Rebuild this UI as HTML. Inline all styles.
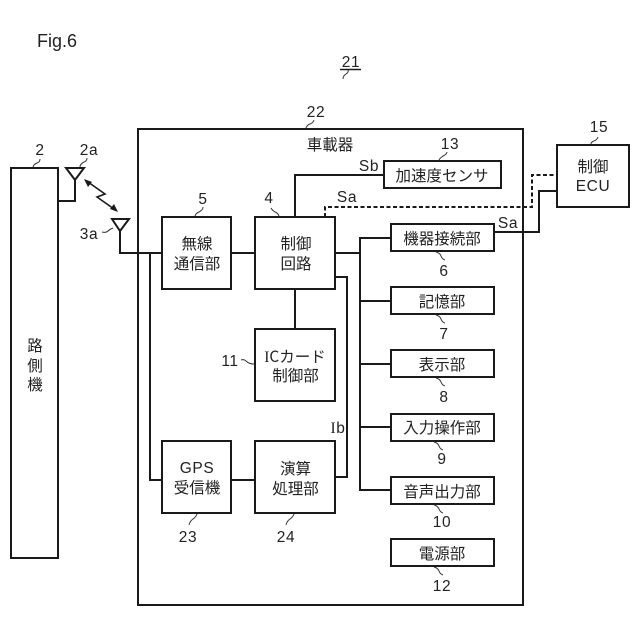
<!DOCTYPE html>
<html><head><meta charset="utf-8">
<style>
html,body{margin:0;padding:0;background:#fff;}
svg{display:block;}
text{font-family:"Liberation Sans","Noto Sans CJK JP",sans-serif;font-size:15px;fill:#222;text-anchor:middle;}
.j{font-family:"Noto Sans CJK JP","Liberation Sans",sans-serif;font-size:15.5px;}
.l{font-size:15.5px;letter-spacing:.6px;}
.b{fill:none;stroke:#1a1a1a;stroke-width:2;}
.t{fill:none;stroke:#333;stroke-width:1;}
</style></head><body>
<svg width="640" height="640" viewBox="0 0 640 640" xmlns="http://www.w3.org/2000/svg">
<rect width="640" height="640" fill="#fff"/>
<g class="b">
<rect x="11" y="168" width="47" height="390"/>
<rect x="138" y="129" width="385" height="476"/>
<rect x="162" y="217" width="69" height="72"/>
<rect x="255" y="217" width="80" height="72"/>
<rect x="255" y="329" width="80" height="72"/>
<rect x="162" y="441" width="69" height="72"/>
<rect x="255" y="441" width="80" height="72"/>
<rect x="384" y="161" width="117" height="27"/>
<rect x="557" y="145" width="72" height="62"/>
<rect x="391" y="224" width="103" height="27"/>
<rect x="391" y="287" width="103" height="27"/>
<rect x="391" y="350" width="103" height="27"/>
<rect x="391" y="414" width="103" height="27"/>
<rect x="391" y="477" width="103" height="27"/>
<rect x="391" y="539" width="103" height="27"/>
<path d="M58 201H75V180M66 168H84L75 180L66 168Z"/>
<path d="M120 231V253H162M112 219H129L120 231L112 219Z"/>
<path d="M150 253V480H162M231 253H255M231 480H255M295 289V329"/>
<path d="M295 217V175H384"/>
<path d="M335 253H360M391 238H360V490H391M360 301H391M360 364H391M360 427H391"/>
<path d="M335 277H347V477H335"/>
<path d="M494 232H539V191H557"/>
<path d="M325 217V207H532V175H557" stroke-dasharray="4 2.5"/>
<path d="M88 182L105 194L97 197L114 209" stroke-width="1.6"/>
<path d="M340 69.5H361" stroke-width="1.4"/>
</g>
<path d="M84 179L92 182L88 187Z" fill="#1a1a1a"/>
<path d="M118 212L110 209L114 204Z" fill="#1a1a1a"/>
<g class="t">
<path d="M33 167q1-3 4-4q3-1 3-4"/>
<path d="M80 167q0-3 4-5q3-1 3-4"/>
<path d="M102 232q4 1 6-1q2-2 5-3"/>
<path d="M195 216q1-3 4-4q4-2 4-5"/>
<path d="M279 216q-1-3-4-4q-3-2-4-4"/>
<path d="M343 79q0-3 3-5q3-2 2-4"/>
<path d="M306 128q1-3 4-4q3-1 4-4"/>
<path d="M439 160q1-2 4-4q4-2 4-4"/>
<path d="M591 144q0-2 3-3q3-1 4-4"/>
<path d="M436 252q4 1 5 4q1 3 4 4"/>
<path d="M436 315q4 1 5 4q1 3 4 4"/>
<path d="M436 378q4 1 5 4q1 3 4 4"/>
<path d="M434 442q4 1 5 4q1 3 4 4"/>
<path d="M434 505q4 1 5 4q1 3 4 4"/>
<path d="M434 567q4 1 5 4q1 3 4 4"/>
<path d="M241 360q3-1 5 1q3 3 8 3"/>
<path d="M197 514q-1 3-4 5q-3 2-4 6"/>
<path d="M294 514q-1 3-4 5q-3 2-4 6"/>
</g>
<text x="57" y="47" style="font-size:18px" textLength="40" lengthAdjust="spacingAndGlyphs">Fig.6</text>
<text x="351" y="67" class="l">21</text>
<text x="316" y="117" class="l">22</text>
<text x="40" y="155" class="l">2</text>
<text x="89" y="155" class="l">2a</text>
<text x="89" y="239" class="l">3a</text>
<text x="203" y="204" class="l">5</text>
<text x="269" y="203" class="l">4</text>
<text x="450" y="149" class="l">13</text>
<text x="599" y="132" class="l">15</text>
<text x="444" y="276" class="l">6</text>
<text x="444" y="339" class="l">7</text>
<text x="444" y="402" class="l">8</text>
<text x="442" y="464" class="l">9</text>
<text x="442" y="527" class="l">10</text>
<text x="442" y="591" class="l">12</text>
<text x="230" y="366" class="l">11</text>
<text x="188" y="542" class="l">23</text>
<text x="286" y="542" class="l">24</text>
<text x="369" y="171" class="l">Sb</text>
<text x="347" y="202" class="l">Sa</text>
<text x="508" y="228" class="l">Sa</text>
<text x="338" y="433" class="l"><tspan style="font-family:'Liberation Serif',serif">I</tspan>b</text>
<text x="35" y="351" class="j">路</text>
<text x="35" y="371" class="j">側</text>
<text x="35" y="390" class="j">機</text>
<text x="330" y="150" class="j">車載器</text>
<text x="197" y="249" class="j">無線</text>
<text x="197" y="269" class="j">通信部</text>
<text x="296" y="249" class="j">制御</text>
<text x="296" y="269" class="j">回路</text>
<text x="295" y="362" class="j"><tspan style="font-family:'Liberation Serif',serif">I</tspan>Cカード</text>
<text x="295.5" y="381" class="j">制御部</text>
<text x="197" y="473" class="l">GPS</text>
<text x="197" y="493" class="j">受信機</text>
<text x="295.5" y="474" class="j">演算</text>
<text x="295.5" y="494" class="j">処理部</text>
<text x="442" y="181" class="j">加速度センサ</text>
<text x="593" y="172" class="j">制御</text>
<text x="593" y="191" class="l">ECU</text>
<text x="442" y="244" class="j">機器接続部</text>
<text x="442" y="307" class="j">記憶部</text>
<text x="442" y="370" class="j">表示部</text>
<text x="442" y="433" class="j">入力操作部</text>
<text x="442" y="497" class="j">音声出力部</text>
<text x="442" y="559" class="j">電源部</text>
</svg>
</body></html>
